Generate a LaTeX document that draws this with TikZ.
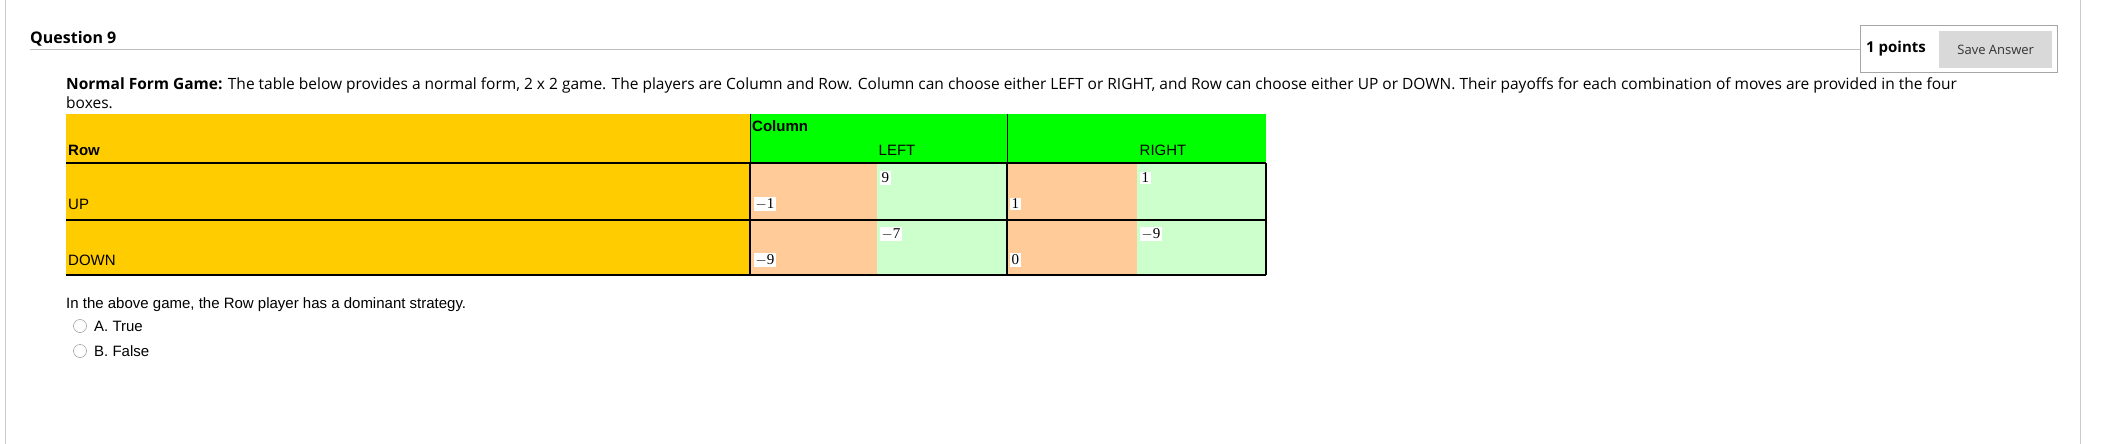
\documentclass[tikz,border=0pt]{standalone}
\usepackage{fontspec}
\setmainfont{Open Sans}
\newfontfamily\arialf{Liberation Sans}
\newfontfamily\timesf{Liberation Serif}
\definecolor{rowy}{RGB}{255,204,0}
\definecolor{colg}{RGB}{0,255,0}
\definecolor{peach}{RGB}{255,204,153}
\definecolor{mint}{RGB}{204,255,204}
\begin{document}
\begin{tikzpicture}[x=1pt,y=-1pt,
  tx/.style={inner sep=0pt,anchor=west},
  ar/.style={tx,font=\arialf\fontsize{15}{18}\selectfont},
  pay/.style={inner sep=1.5pt,fill=white,font=\timesf\fontsize{15}{18}\selectfont}]
\useasboundingbox (0,0) rectangle (2101,444);
\fill[white] (0,0) rectangle (2101,444);
\draw[gray!40] (5,0) -- (5,444);
\draw[gray!40] (2080,0) -- (2080,444);
\node[tx,font=\bfseries\fontsize{16}{19}\selectfont] (q) at (30,39) {Question 9};
\draw[gray!50,line width=1pt] (30,50) -- (1860,50);
\node[draw=gray!70,minimum width=197pt,minimum height=47pt,inner sep=0pt,anchor=north west] (pbox) at (1860,25) {};
\node[tx,font=\bfseries\fontsize{15}{18}\selectfont] (pts) at (1866,49) {1 points};
\node[fill=gray!30,minimum width=113pt,minimum height=37pt,inner sep=0pt,anchor=north west,font=\fontsize{13}{16}\selectfont,text=black!80] (save) at (1939,31) {Save Answer};
\node[tx,font=\fontsize{15.5}{18}\selectfont,anchor=base west] (intro) at (66,89) {\textbf{Normal Form Game:} The table below provides a normal form, 2 x 2 game. The players are Column and Row. Column can choose either LEFT or RIGHT, and Row can choose either UP or DOWN. Their payoffs for each combination of moves are provided in the four};
\node[tx,font=\fontsize{15.5}{18}\selectfont,anchor=base west] (boxes) at (66,108) {boxes.};
% table
\fill[rowy] (66,114) rectangle (750,275);
\fill[colg] (750,114) rectangle (1266,163);
\fill[peach] (750,163) rectangle (877,275);
\fill[mint] (877,163) rectangle (1007,275);
\fill[peach] (1007,163) rectangle (1137,275);
\fill[mint] (1137,163) rectangle (1266,275);
\draw[line width=1pt] (750,114) -- (750,163);
\draw[line width=1pt] (1007,114) -- (1007,163);
\draw[line width=2pt] (66,163) -- (1266,163);
\draw[line width=2pt] (66,220) -- (1266,220);
\draw[line width=2pt] (66,275) -- (1266,275);
\draw[line width=2pt] (750,163) -- (750,275) (1007,163) -- (1007,275) (1266,163) -- (1266,275);
\node[ar,font=\arialf\bfseries\fontsize{15}{18}\selectfont] (colh) at (752,126) {Column};
\node[ar,font=\arialf\bfseries\fontsize{15}{18}\selectfont] (rowh) at (68,150) {Row};
\node[ar,anchor=center] (left) at (897,150) {LEFT};
\node[ar,anchor=center] (right) at (1163,150) {RIGHT};
\node[ar] (up) at (68,204) {UP};
\node[ar] (down) at (68,260) {DOWN};
\node[pay,anchor=west] (a1) at (880,178) {9};
\node[pay,anchor=west] (a2) at (754,204) {$-$1};
\node[pay,anchor=west] (b1) at (1140,178) {1};
\node[pay,anchor=west] (b2) at (1010,204) {1};
\node[pay,anchor=west] (c1) at (880,234) {$-$7};
\node[pay,anchor=west] (c2) at (754,260) {$-$9};
\node[pay,anchor=west] (d1) at (1140,234) {$-$9};
\node[pay,anchor=west] (d2) at (1010,260) {0};
% question
\node[ar] (qq) at (66,305) {In the above game, the Row player has a dominant strategy.};
\draw[gray] (80,326) circle (6.5);
\node[ar] (ta) at (94,326) {A. True};
\draw[gray] (80,351) circle (6.5);
\node[ar] (tb) at (94,351) {B. False};
\end{tikzpicture}
\end{document}
